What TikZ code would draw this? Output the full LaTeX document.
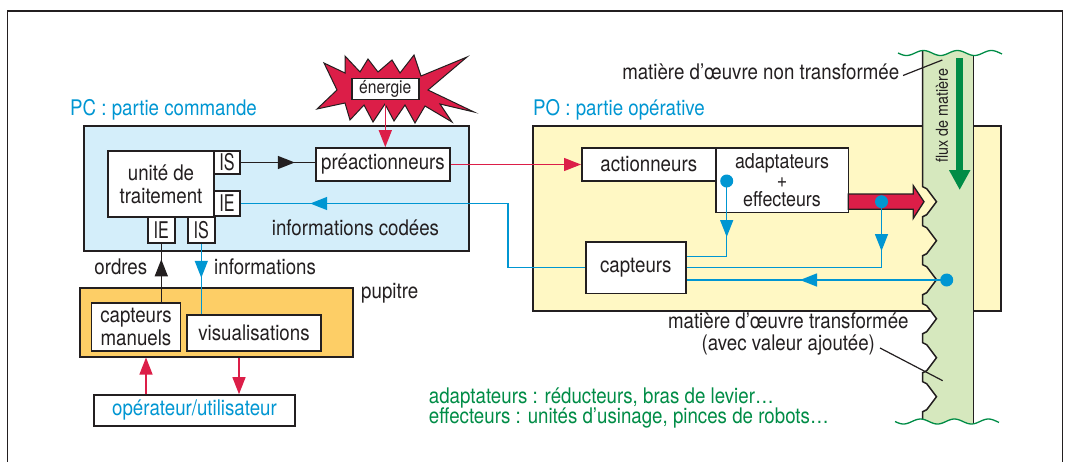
\documentclass[tikz,border=0pt]{standalone}
\usepackage{fontspec}
\setmainfont{TeX Gyre Heros}[FakeStretch=0.87]
\newfontfamily\narrowfont{TeX Gyre Heros}[FakeStretch=0.7]
\usetikzlibrary{arrows.meta,decorations.markings}

\definecolor{ink}{RGB}{35,31,32}
\definecolor{pcblue}{RGB}{212,238,250}
\definecolor{poyellow}{RGB}{255,248,196}
\definecolor{desk}{RGB}{253,206,102}
\definecolor{energy}{RGB}{220,30,72}
\definecolor{signal}{RGB}{0,150,210}
\definecolor{matter}{RGB}{214,232,190}
\definecolor{flow}{RGB}{0,140,70}

\tikzset{
  tri/.tip={Triangle[length=17pt,width=13pt]},
  box/.style={draw=ink, fill=white, line width=1.6pt, inner sep=0pt, align=center},
  zone/.style={draw=ink, line width=1.6pt, inner sep=0pt},
  port/.style={box, font=\narrowfont\fontsize{23}{23}\selectfont},
  txt/.style={inner sep=0pt, align=center},
  sig/.style={signal, line width=1.5pt},
  cmd/.style={ink, line width=1.5pt},
  pow/.style={energy, line width=1.3pt},
  dot/.style={circle, fill=signal, inner sep=0pt, minimum size=13pt},
  tipat/.style={postaction={decorate, decoration={markings, mark=at position #1 with {\arrow{tri}}}}},
}

\begin{document}
\begin{tikzpicture}[x=1pt, y=-1pt, font=\fontsize{21.5}{22}\selectfont, text=ink]
\useasboundingbox (0,0) rectangle (1065,461);

% outer frame, open at the bottom
\draw[ink, line width=1.4pt] (7.5,470) -- (7.5,11) -- (1062.5,11) -- (1062.5,470);

% the three zones
\node[zone, fill=pcblue, minimum width=385pt, minimum height=125pt] (pc) at (276.5,188.5) {};
\node[txt, text=signal, anchor=west] (pclbl) at (70,110) {PC : partie commande};
\node[zone, fill=poyellow, minimum width=467.7pt, minimum height=185pt] (po) at (766.85,218.5) {};
\node[txt, text=signal, anchor=west] (polbl) at (533,110) {PO : partie opérative};
\node[zone, fill=desk, minimum width=273pt, minimum height=68.7pt] (pup) at (216.5,322.35) {};
\node[txt, anchor=west] (puplbl) at (361,293) {pupitre};

% flow of matter, toothed on its left side
\begin{scope}
  \clip plot[domain=880:1010, samples=80, smooth] (\x,{53+2.5*sin(10.6*(\x-898))})
     -- plot[domain=1010:880, samples=80, smooth] (\x,{421.5+2.5*sin(10.6*(\x-895))}) -- cycle;
  \fill[matter] (922.7,40)
     foreach \t in {201.7,240.7,279.7,318.7,357.7,396.7} {
       -- (922.7,\t-15) -- (926.7,\t-13) -- (936.5,\t) -- (926.7,\t+13) -- (922.7,\t+15) }
     -- (922.7,440) -- (973.6,440) -- (973.6,40) -- cycle;
  \draw[ink, line width=1.5pt] (922.7,40)
     foreach \t in {201.7,240.7,279.7,318.7,357.7,396.7} {
       -- (922.7,\t-15) -- (926.7,\t-13) -- (936.5,\t) -- (926.7,\t+13) -- (922.7,\t+15) }
     -- (922.7,440);
  \draw[ink, line width=1.5pt] (973.6,40) -- (973.6,440);
\end{scope}
\draw[flow, line width=1.3pt] plot[domain=898:1002, samples=60, smooth] (\x,{53+2.5*sin(10.6*(\x-898))});
\draw[flow, line width=1.3pt] plot[domain=895:999, samples=60, smooth] (\x,{421.5+2.5*sin(10.6*(\x-895))});
\coordinate (fluxtop) at (959.7,58);
\coordinate (fluxtip) at (959.7,190);
\draw[flow, line width=7pt, -{Triangle[length=20pt,width=20pt]}] (fluxtop) -- (fluxtip);
\node[txt, rotate=90, font=\fontsize{16.5}{16.5}\selectfont] (fluxlbl) at (942,115.5) {flux de matière};

% energy burst
\filldraw[fill=energy, draw=ink, line width=1pt]
  (317,109) -- (337,90) -- (324,63) -- (345,73) -- (345,56) -- (360,72) -- (368,59)
  -- (378,72) -- (392,60) -- (400,73) -- (414,55) -- (421,76) -- (467,57) -- (428,90)
  -- (474,112) -- (440,104) -- (452,122) -- (425,106) -- (415,123) -- (405,105)
  -- (394,121) -- (385,104) -- (373,122) -- (364,105) -- (350,120) -- (345,103) -- cycle;
\node[box, line width=1.4pt, minimum width=67pt, minimum height=21pt, font=\fontsize{18}{18}\selectfont] (en) at (385.3,88.8) {énergie};

% command part
\node[box, minimum width=106pt, minimum height=66pt, font=\fontsize{21.5}{23}\selectfont] (ut) at (161,184) {unité de\\traitement};
\node[port, minimum width=26pt, minimum height=23pt] (isr) at (227,162.5) {IS};
\node[port, minimum width=26pt, minimum height=25pt] (ier) at (227,203.5) {IE};
\node[port, minimum width=27pt, minimum height=26pt] (ieb) at (161.3,230) {IE};
\node[port, minimum width=27pt, minimum height=26pt] (isb) at (201.3,230) {IS};
\node[box, minimum width=134pt, minimum height=33pt] (preact) at (383,164.5) {préactionneurs};
\node[txt] (infc) at (355.5,228) {informations codées};

% operative part
\node[box, minimum width=134pt, minimum height=33pt] (act) at (648.8,164.5) {actionneurs};
\node[box, minimum width=132.6pt, minimum height=64.6pt, font=\fontsize{20.5}{19}\selectfont] (adapt) at (782,180) {adaptateurs\\+\\effecteurs};
\node[box, minimum width=100.3pt, minimum height=51.6pt] (capt) at (635.85,267.5) {capteurs};

% output of the effectors into the matter
\filldraw[fill=energy, draw=ink, line width=1.3pt]
  (848.3,194) -- (913.3,194) -- (913.3,185.7) -- (924,201.7) -- (913.3,218.3)
  -- (913.3,209.3) -- (848.3,209.3) -- cycle;

% desk and operator
\node[box, minimum width=88.8pt, minimum height=47.7pt, font=\fontsize{21.5}{22.3}\selectfont] (cm) at (136,327) {capteurs\\manuels};
\node[box, minimum width=134pt, minimum height=35.7pt] (vis) at (254,332.85) {visualisations};
\node[box, text=signal, minimum width=201pt, minimum height=30.7pt] (op) at (194.5,410.35) {opérateur/utilisateur};
\node[txt, anchor=east] (ordlbl) at (147.4,266.7) {ordres};
\node[txt, anchor=west] (inflbl) at (214,266.7) {informations};

% notes and matter labels
\node[txt, text=flow, anchor=west, align=left, font=\fontsize{21.5}{20.5}\selectfont] (notes) at (428.7,408)
  {adaptateurs : réducteurs, bras de levier…\\effecteurs : unités d'usinage, pinces de robots…};
\node[txt] (rawlbl) at (760.7,71.7) {matière d'œuvre non transformée};
\node[txt] (donelbl) at (788.3,334) {matière d'œuvre transformée\\(avec valeur ajoutée)};
\coordinate (rawstart) at (903,75.5);
\coordinate (rawpt) at (942.3,60);
\coordinate (donestart) at (880,348);
\coordinate (donept) at (942.7,380.7);
\draw[ink, line width=1.2pt] (rawstart) -- (rawpt);
\draw[ink, line width=1.2pt] (donestart) -- (donept);

% signal connectors
\coordinate (bend) at (508,203.5);
\node[dot] (d1) at (726.7,181) {};
\node[dot] (d2) at (881.5,201.7) {};
\node[dot] (d3) at (946.7,280) {};
\draw[sig, tipat=338.7pt] (capt.west) -| (bend) -- (ier.east);
\draw[sig, tipat=56pt] (d1.center) |- ([yshift=11pt]capt.east);
\draw[sig, tipat=49.3pt] (d2.center) |- (capt.east);
\draw[sig, tipat=146.7pt] (d3.center) -- (d3 -| capt.east);
\draw[sig, tipat=34pt] (isb.south) -- (isb.south |- vis.north);

% orders and power
\draw[cmd, tipat=43pt] (ieb.south |- cm.north) -- (ieb.south);
\draw[cmd, tipat=54pt] (isr.east) -- (isr.east -| preact.west);
\draw[pow, -{tri}] (preact.east) -- (act.west);
\draw[pow, -{tri}] (en.south) -- (en.south |- preact.north);
\draw[pow, -{tri}] ([xshift=-48.5pt]op.north) -- ([xshift=-48.5pt]op.north |- pup.south);
\draw[pow, -{tri}] ([xshift=44.5pt]op.north |- pup.south) -- ([xshift=44.5pt]op.north);
\end{tikzpicture}
\end{document}
